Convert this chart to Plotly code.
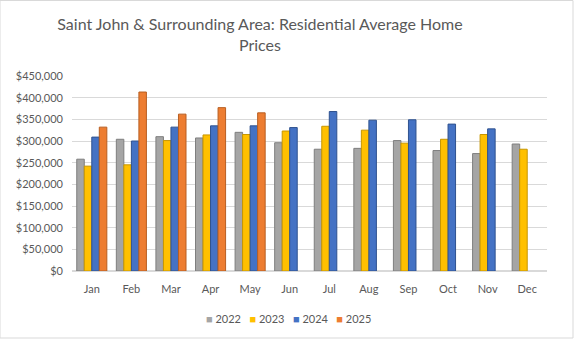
import plotly.graph_objects as go

months = ["Jan", "Feb", "Mar", "Apr", "May", "Jun", "Jul", "Aug", "Sep", "Oct", "Nov", "Dec"]
y2022 = [258000, 304000, 310000, 307000, 320000, 296000, 281000, 283000, 301000, 278000, 271000, 293000]
y2023 = [242000, 245000, 301000, 314000, 315000, 323000, 334000, 325000, 295000, 304000, 315000, 281000]
y2024 = [309000, 300000, 332000, 335000, 335000, 331000, 368000, 348000, 349000, 339000, 328000, None]
y2025 = [332000, 413000, 362000, 377000, 365000, None, None, None, None, None, None, None]

series = [("2022", y2022, "#A5A5A5", "#7F7F7F"),
          ("2023", y2023, "#FFC000", "#C79600"),
          ("2024", y2024, "#4472C4", "#2F528F"),
          ("2025", y2025, "#ED7D31", "#B85F22")]

fig = go.Figure()
for name, vals, col, edge in series:
    fig.add_trace(go.Bar(x=months, y=vals, name=name, showlegend=False,
                         marker=dict(color=col, line=dict(color=edge, width=1))))

# compact legend (Excel style) as a single text line
legend_text = "&nbsp;&nbsp;&nbsp;".join(
    f'<span style="color:{col}">■</span> {name}' for name, _, col, _ in series)

font = "Lato, Calibri, 'Open Sans', sans-serif"
fig.update_layout(
    width=575, height=340,
    paper_bgcolor="white", plot_bgcolor="white",
    margin=dict(l=72, r=28, t=76, b=69),
    barmode="group", bargap=0.24, bargroupgap=0,
    title=dict(text="Saint John & Surrounding Area: Residential Average Home<br>Prices",
               x=260/575, xref="container", xanchor="center",
               y=1 - 30/340, yref="container", yanchor="middle",
               font=dict(family=font, size=16, color="#595959")),
    font=dict(family=font, size=11, color="#595959"),
    annotations=[dict(text=legend_text, xref="paper", yref="paper",
                      x=(288 - 72)/475, y=(271 - 318)/195, xanchor="center", yanchor="middle",
                      showarrow=False, font=dict(family=font, size=11, color="#595959"))],
    yaxis=dict(range=[0, 450000], dtick=50000, tickformat="$,.0f",
               showgrid=True, gridcolor="#D9D9D9", gridwidth=1,
               zeroline=True, zerolinecolor="#D9D9D9", showline=False,
               ticks="", ticklabelstandoff=8, tickfont=dict(size=11, color="#595959")),
    xaxis=dict(showline=False, ticks="", tickfont=dict(size=11, color="#595959"),
               ticklabelstandoff=10),
    shapes=[dict(type="rect", xref="paper", yref="paper", x0=-72/475, x1=(575-72-2)/475,
                 y0=-67/195, y1=1 + 75.5/195,
                 line=dict(color="#D9D9D9", width=1), fillcolor="rgba(0,0,0,0)")]
)

fig.write_html("out.html")
